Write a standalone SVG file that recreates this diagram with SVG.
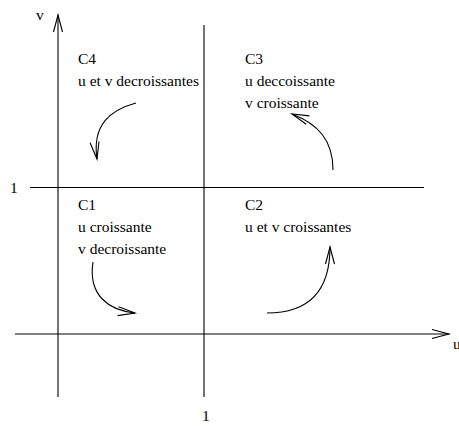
<svg xmlns="http://www.w3.org/2000/svg" width="459" height="426" viewBox="0 0 459 426">
<style>
.ln{stroke:#000;stroke-width:1.1;fill:none}
.ar{stroke:#000;stroke-width:1.1;fill:none;marker-end:url(#open)}
text{font-family:"Liberation Serif","Times New Roman",serif;font-size:15.5px;fill:#000}
</style>
<defs>
<marker id="open" markerUnits="userSpaceOnUse" markerWidth="24" markerHeight="14" viewBox="-20 -7 24 14" refX="0" refY="0" orient="auto">
<path d="M-17,-4.5 L0,0 L-17,4.5" fill="none" stroke="#000" stroke-width="1.1"/>
</marker>
</defs>
<rect width="459" height="426" fill="#fff"/>
<g id="axes">
<line class="ar" x1="58" y1="397" x2="58" y2="15"/>
<line class="ar" x1="15" y1="334" x2="449" y2="334"/>
<line class="ln" x1="204" y1="25" x2="204" y2="397"/>
<line class="ln" x1="30" y1="187.5" x2="424" y2="187.5"/>
<text x="36" y="20">v</text>
<text x="10" y="193">1</text>
<text x="202" y="421">1</text>
<text x="453" y="349">u</text>
</g>
<g id="C4">
<text x="78" y="64">C4</text>
<text x="78" y="86">u et v decroissantes</text>
</g>
<g id="C3">
<text x="245" y="64">C3</text>
<text x="245" y="86">u deccoissante</text>
<text x="245" y="108">v croissante</text>
</g>
<g id="C1">
<text x="78" y="210">C1</text>
<text x="78" y="232">u croissante</text>
<text x="78" y="254">v decroissante</text>
</g>
<g id="C2">
<text x="245" y="210">C2</text>
<text x="245" y="232">u et v croissantes</text>
</g>
<g id="connectors">
<path class="ar" d="M136,103 C110,110 92,125 97,159"/>
<path class="ar" d="M333,170 C333,140 318,124 292,114"/>
<path class="ar" d="M93,262 C88,295 108,310 135,313"/>
<path class="ar" d="M267,313 C310,313 330,290 330,247"/>
</g>
</svg>
